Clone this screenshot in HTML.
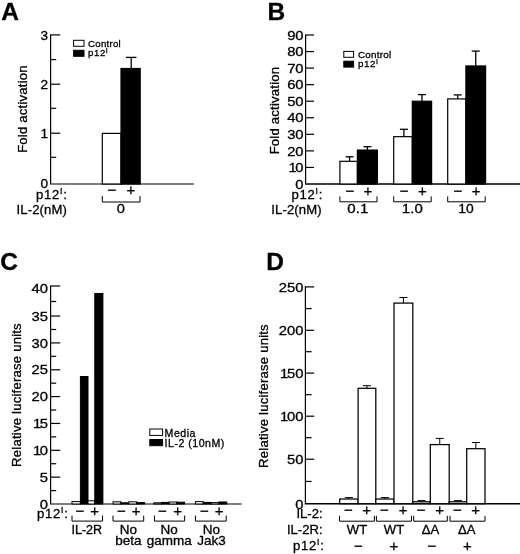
<!DOCTYPE html>
<html><head><meta charset="utf-8"><title>Figure</title>
<style>
html,body{margin:0;padding:0;background:#fff;}
svg{display:block;filter:blur(0.35px);font-family:"Liberation Sans",Arial,Helvetica,sans-serif;fill:#000;}
text{stroke:#000;stroke-width:0.3px;}
</style></head><body>
<svg width="520" height="554" viewBox="0 0 520 554">
<rect x="0" y="0" width="520" height="554" fill="#fff" stroke="none"/>
<text x="1.3" y="20" font-size="24.5" text-anchor="start" font-weight="bold" >A</text>
<line x1="50.6" y1="34.4" x2="50.6" y2="184.0" stroke="#000" stroke-width="1.2"/>
<line x1="50.0" y1="184.0" x2="194" y2="184.0" stroke="#000" stroke-width="1.2"/>
<line x1="50.6" y1="133.2" x2="60.2" y2="133.2" stroke="#000" stroke-width="1.2"/>
<line x1="50.6" y1="84.2" x2="60.2" y2="84.2" stroke="#000" stroke-width="1.2"/>
<line x1="50.6" y1="34.9" x2="60.2" y2="34.9" stroke="#000" stroke-width="1.2"/>
<line x1="50.6" y1="157.3" x2="56.2" y2="157.3" stroke="#000" stroke-width="1.2"/>
<line x1="50.6" y1="108.3" x2="56.2" y2="108.3" stroke="#000" stroke-width="1.2"/>
<line x1="50.6" y1="59.6" x2="56.2" y2="59.6" stroke="#000" stroke-width="1.2"/>
<text transform="translate(48,187.8) scale(1.04,1)" font-size="13.1" text-anchor="end" font-weight="normal" >0</text>
<text transform="translate(48,137.9) scale(1.04,1)" font-size="13.1" text-anchor="end" font-weight="normal" >1</text>
<text transform="translate(48,88.9) scale(1.04,1)" font-size="13.1" text-anchor="end" font-weight="normal" >2</text>
<text transform="translate(48,39.6) scale(1.04,1)" font-size="13.1" text-anchor="end" font-weight="normal" >3</text>
<text transform="translate(27.2,109) rotate(-90)" font-size="13.1" text-anchor="middle" letter-spacing="0.22">Fold activation</text>
<rect x="73.6" y="40.3" width="10.4" height="6.0" fill="#fff" stroke="#000" stroke-width="1"/>
<rect x="73.6" y="50.3" width="10.4" height="6.0" fill="#000" stroke="#000" stroke-width="1"/>
<text x="88" y="46.6" font-size="9.7" text-anchor="start" font-weight="normal" letter-spacing="0.25">Control</text>
<text x="88" y="56.4" font-size="9.7" text-anchor="start" font-weight="normal" letter-spacing="0.55">p12<tspan font-size="7" dy="-3">I</tspan></text>
<rect x="102.3" y="133.4" width="18.7" height="50.6" fill="#fff" stroke="#000" stroke-width="1.2"/>
<rect x="121" y="68.5" width="19.2" height="115.5" fill="#000" stroke="#000" stroke-width="1.2"/>
<line x1="131.2" y1="68.5" x2="131.2" y2="57.4" stroke="#000" stroke-width="1.3"/>
<line x1="125.89999999999999" y1="57.4" x2="136.5" y2="57.4" stroke="#000" stroke-width="1.3"/>
<text x="36.1" y="198.6" font-size="13.1" text-anchor="start" font-weight="normal" ><tspan letter-spacing="0.7">p12</tspan><tspan font-size="8.6" dy="-4.4" letter-spacing="0.9">I</tspan><tspan dy="4.4">:</tspan></text>
<text x="112" y="195.4" font-size="15" text-anchor="middle" font-weight="normal" >−</text>
<text x="130.8" y="195.4" font-size="15" text-anchor="middle" font-weight="normal" >+</text>
<polyline points="102.3,196 102.3,202 140,202 140,196" fill="none" stroke="#000" stroke-width="1.0"/>
<text transform="translate(120.8,213.1) scale(1.12,1)" font-size="13.1" text-anchor="middle" font-weight="normal" >0</text>
<text x="16.6" y="213.6" font-size="13.1" text-anchor="start" font-weight="normal" letter-spacing="0.1">IL-2(nM)</text>
<text x="267.5" y="20" font-size="24.5" text-anchor="start" font-weight="bold" >B</text>
<line x1="305.6" y1="34.4" x2="305.6" y2="184.0" stroke="#000" stroke-width="1.2"/>
<line x1="305.0" y1="184.0" x2="520" y2="184.0" stroke="#000" stroke-width="1.4"/>
<line x1="305.6" y1="167.44444444444446" x2="314.0" y2="167.44444444444446" stroke="#000" stroke-width="1.2"/>
<line x1="305.6" y1="150.88888888888889" x2="314.0" y2="150.88888888888889" stroke="#000" stroke-width="1.2"/>
<line x1="305.6" y1="134.33333333333334" x2="314.0" y2="134.33333333333334" stroke="#000" stroke-width="1.2"/>
<line x1="305.6" y1="117.77777777777779" x2="314.0" y2="117.77777777777779" stroke="#000" stroke-width="1.2"/>
<line x1="305.6" y1="101.22222222222223" x2="314.0" y2="101.22222222222223" stroke="#000" stroke-width="1.2"/>
<line x1="305.6" y1="84.66666666666667" x2="314.0" y2="84.66666666666667" stroke="#000" stroke-width="1.2"/>
<line x1="305.6" y1="68.11111111111111" x2="314.0" y2="68.11111111111111" stroke="#000" stroke-width="1.2"/>
<line x1="305.6" y1="51.55555555555557" x2="314.0" y2="51.55555555555557" stroke="#000" stroke-width="1.2"/>
<line x1="305.6" y1="35.0" x2="314.0" y2="35.0" stroke="#000" stroke-width="1.2"/>
<text transform="translate(303.6,188.9) scale(1.13,1)" font-size="13.1" text-anchor="end" font-weight="normal" >0</text>
<text transform="translate(303.6,172.14) scale(1.13,1)" font-size="13.1" text-anchor="end" font-weight="normal" ><tspan letter-spacing="-1.2">1</tspan>0</text>
<text transform="translate(303.6,155.59) scale(1.13,1)" font-size="13.1" text-anchor="end" font-weight="normal" >20</text>
<text transform="translate(303.6,139.03) scale(1.13,1)" font-size="13.1" text-anchor="end" font-weight="normal" >30</text>
<text transform="translate(303.6,122.48) scale(1.13,1)" font-size="13.1" text-anchor="end" font-weight="normal" >40</text>
<text transform="translate(303.6,105.92) scale(1.13,1)" font-size="13.1" text-anchor="end" font-weight="normal" >50</text>
<text transform="translate(303.6,89.37) scale(1.13,1)" font-size="13.1" text-anchor="end" font-weight="normal" >60</text>
<text transform="translate(303.6,72.81) scale(1.13,1)" font-size="13.1" text-anchor="end" font-weight="normal" >70</text>
<text transform="translate(303.6,56.26) scale(1.13,1)" font-size="13.1" text-anchor="end" font-weight="normal" >80</text>
<text transform="translate(303.6,39.7) scale(1.13,1)" font-size="13.1" text-anchor="end" font-weight="normal" >90</text>
<text transform="translate(278.6,110.5) rotate(-90)" font-size="13.1" text-anchor="middle" letter-spacing="0.22">Fold activation</text>
<rect x="343.8" y="51.4" width="9.8" height="5.9" fill="#fff" stroke="#000" stroke-width="1"/>
<rect x="343.8" y="61.2" width="9.8" height="5.9" fill="#000" stroke="#000" stroke-width="1"/>
<text x="358" y="57.6" font-size="9.8" text-anchor="start" font-weight="normal" letter-spacing="0.25">Control</text>
<text x="358" y="67.4" font-size="9.8" text-anchor="start" font-weight="normal" letter-spacing="0.55">p12<tspan font-size="7" dy="-3">I</tspan></text>
<rect x="339.9" y="161.3188888888889" width="17.5" height="22.68" fill="#fff" stroke="#000" stroke-width="1.2"/>
<rect x="357.4" y="150.0611111111111" width="20.0" height="33.94" fill="#000" stroke="#000" stroke-width="1.2"/>
<line x1="349.55" y1="161.3188888888889" x2="349.55" y2="156.8" stroke="#000" stroke-width="1.3"/>
<line x1="345.55" y1="156.8" x2="353.55" y2="156.8" stroke="#000" stroke-width="1.3"/>
<line x1="367.4" y1="150.0611111111111" x2="367.4" y2="146.7" stroke="#000" stroke-width="1.3"/>
<line x1="363.4" y1="146.7" x2="371.4" y2="146.7" stroke="#000" stroke-width="1.3"/>
<text x="349.84999999999997" y="195.5" font-size="15" text-anchor="middle" font-weight="normal" >−</text>
<text x="367.9" y="195.5" font-size="15" text-anchor="middle" font-weight="normal" >+</text>
<polyline points="339.9,196.4 339.9,201.8 377.0,201.8 377.0,196.4" fill="none" stroke="#000" stroke-width="1.0"/>
<rect x="393.7" y="136.6511111111111" width="18.6" height="47.35" fill="#fff" stroke="#000" stroke-width="1.2"/>
<rect x="412.3" y="101.22222222222223" width="19.3" height="82.78" fill="#000" stroke="#000" stroke-width="1.2"/>
<line x1="403.9" y1="136.6511111111111" x2="403.9" y2="129.3" stroke="#000" stroke-width="1.3"/>
<line x1="399.9" y1="129.3" x2="407.9" y2="129.3" stroke="#000" stroke-width="1.3"/>
<line x1="421.95000000000005" y1="101.22222222222223" x2="421.95000000000005" y2="94.6" stroke="#000" stroke-width="1.3"/>
<line x1="417.95000000000005" y1="94.6" x2="425.95000000000005" y2="94.6" stroke="#000" stroke-width="1.3"/>
<text x="404.2" y="195.5" font-size="15" text-anchor="middle" font-weight="normal" >−</text>
<text x="422.45000000000005" y="195.5" font-size="15" text-anchor="middle" font-weight="normal" >+</text>
<polyline points="393.7,196.4 393.7,201.8 431.20000000000005,201.8 431.20000000000005,196.4" fill="none" stroke="#000" stroke-width="1.0"/>
<rect x="447.7" y="98.90444444444445" width="18.2" height="85.1" fill="#fff" stroke="#000" stroke-width="1.2"/>
<rect x="465.9" y="65.95888888888891" width="19.7" height="118.04" fill="#000" stroke="#000" stroke-width="1.2"/>
<line x1="457.7" y1="98.90444444444445" x2="457.7" y2="94.9" stroke="#000" stroke-width="1.3"/>
<line x1="453.7" y1="94.9" x2="461.7" y2="94.9" stroke="#000" stroke-width="1.3"/>
<line x1="475.75" y1="65.95888888888891" x2="475.75" y2="51.1" stroke="#000" stroke-width="1.3"/>
<line x1="471.75" y1="51.1" x2="479.75" y2="51.1" stroke="#000" stroke-width="1.3"/>
<text x="457.99999999999994" y="195.5" font-size="15" text-anchor="middle" font-weight="normal" >−</text>
<text x="476.25" y="195.5" font-size="15" text-anchor="middle" font-weight="normal" >+</text>
<polyline points="447.7,196.4 447.7,201.8 485.20000000000005,201.8 485.20000000000005,196.4" fill="none" stroke="#000" stroke-width="1.0"/>
<text transform="translate(357.8,213.4) scale(1.15,1)" font-size="13.1" text-anchor="middle" font-weight="normal" >0.1</text>
<text transform="translate(412.3,213.4) scale(1.15,1)" font-size="13.1" text-anchor="middle" font-weight="normal" >1.0</text>
<text transform="translate(466,213.4) scale(1.06,1)" font-size="13.1" text-anchor="middle" font-weight="normal" >10</text>
<text x="291.6" y="198.6" font-size="13.1" text-anchor="start" font-weight="normal" ><tspan letter-spacing="0.7">p12</tspan><tspan font-size="8.6" dy="-4.4" letter-spacing="0.9">I</tspan><tspan dy="4.4">:</tspan></text>
<text x="271.2" y="213.6" font-size="13.1" text-anchor="start" font-weight="normal" letter-spacing="0.15">IL-2(nM)</text>
<text x="0.2" y="269.6" font-size="24.5" text-anchor="start" font-weight="bold" >C</text>
<line x1="50.6" y1="285.4" x2="50.6" y2="504" stroke="#000" stroke-width="1.2"/>
<line x1="50.0" y1="504" x2="241.5" y2="504" stroke="#000" stroke-width="1.2"/>
<line x1="50.6" y1="477.15" x2="60.2" y2="477.15" stroke="#000" stroke-width="1.2"/>
<line x1="50.6" y1="490.57" x2="56.2" y2="490.57" stroke="#000" stroke-width="1.2"/>
<line x1="50.6" y1="450.3" x2="60.2" y2="450.3" stroke="#000" stroke-width="1.2"/>
<line x1="50.6" y1="463.73" x2="56.2" y2="463.73" stroke="#000" stroke-width="1.2"/>
<line x1="50.6" y1="423.45" x2="60.2" y2="423.45" stroke="#000" stroke-width="1.2"/>
<line x1="50.6" y1="436.88" x2="56.2" y2="436.88" stroke="#000" stroke-width="1.2"/>
<line x1="50.6" y1="396.6" x2="60.2" y2="396.6" stroke="#000" stroke-width="1.2"/>
<line x1="50.6" y1="410.02" x2="56.2" y2="410.02" stroke="#000" stroke-width="1.2"/>
<line x1="50.6" y1="369.75" x2="60.2" y2="369.75" stroke="#000" stroke-width="1.2"/>
<line x1="50.6" y1="383.18" x2="56.2" y2="383.18" stroke="#000" stroke-width="1.2"/>
<line x1="50.6" y1="342.9" x2="60.2" y2="342.9" stroke="#000" stroke-width="1.2"/>
<line x1="50.6" y1="356.32" x2="56.2" y2="356.32" stroke="#000" stroke-width="1.2"/>
<line x1="50.6" y1="316.05" x2="60.2" y2="316.05" stroke="#000" stroke-width="1.2"/>
<line x1="50.6" y1="329.48" x2="56.2" y2="329.48" stroke="#000" stroke-width="1.2"/>
<line x1="50.6" y1="286.0" x2="60.2" y2="286.0" stroke="#000" stroke-width="1.2"/>
<line x1="50.6" y1="301.5" x2="56.2" y2="301.5" stroke="#000" stroke-width="1.2"/>
<text transform="translate(48,508.6) scale(1.13,1)" font-size="13.1" text-anchor="end" font-weight="normal" >0</text>
<text transform="translate(48,481.85) scale(1.13,1)" font-size="13.1" text-anchor="end" font-weight="normal" >5</text>
<text transform="translate(48,455.0) scale(1.13,1)" font-size="13.1" text-anchor="end" font-weight="normal" ><tspan letter-spacing="-1.2">1</tspan>0</text>
<text transform="translate(48,428.15) scale(1.13,1)" font-size="13.1" text-anchor="end" font-weight="normal" ><tspan letter-spacing="-1.2">1</tspan>5</text>
<text transform="translate(48,401.3) scale(1.13,1)" font-size="13.1" text-anchor="end" font-weight="normal" >20</text>
<text transform="translate(48,374.45) scale(1.13,1)" font-size="13.1" text-anchor="end" font-weight="normal" >25</text>
<text transform="translate(48,347.6) scale(1.13,1)" font-size="13.1" text-anchor="end" font-weight="normal" >30</text>
<text transform="translate(48,320.75) scale(1.13,1)" font-size="13.1" text-anchor="end" font-weight="normal" >35</text>
<text transform="translate(48,292.7) scale(1.13,1)" font-size="13.1" text-anchor="end" font-weight="normal" >40</text>
<text transform="translate(21.3,395) rotate(-90)" font-size="13.1" text-anchor="middle" letter-spacing="0.22">Relative luciferase units</text>
<rect x="72" y="501.6" width="8.4" height="2.4" fill="#fff" stroke="#000" stroke-width="1"/>
<rect x="80.4" y="376.5" width="7.6" height="127.5" fill="#000" stroke="#000" stroke-width="1"/>
<rect x="88" y="500.8" width="6.8" height="3.2" fill="#fff" stroke="#000" stroke-width="1"/>
<rect x="94.8" y="293.5" width="8.1" height="210.5" fill="#000" stroke="#000" stroke-width="1"/>
<rect x="113.0" y="501.8" width="7.9" height="2.2" fill="#fff" stroke="#000" stroke-width="1"/>
<rect x="120.9" y="502.8" width="7.9" height="1.2" fill="#000" stroke="#000" stroke-width="1"/>
<rect x="128.8" y="501.8" width="7.9" height="2.2" fill="#fff" stroke="#000" stroke-width="1"/>
<rect x="136.7" y="502.6" width="7.9" height="1.4" fill="#000" stroke="#000" stroke-width="1"/>
<rect x="153.8" y="502.8" width="7.7" height="1.2" fill="#fff" stroke="#000" stroke-width="1"/>
<rect x="161.5" y="502.4" width="7.7" height="1.6" fill="#000" stroke="#000" stroke-width="1"/>
<rect x="169.2" y="502.0" width="7.7" height="2.0" fill="#fff" stroke="#000" stroke-width="1"/>
<rect x="176.9" y="502.2" width="7.7" height="1.8" fill="#000" stroke="#000" stroke-width="1"/>
<rect x="195.4" y="501.6" width="7.85" height="2.4" fill="#fff" stroke="#000" stroke-width="1"/>
<rect x="203.25" y="502.4" width="7.85" height="1.6" fill="#000" stroke="#000" stroke-width="1"/>
<rect x="211.1" y="502.6" width="7.85" height="1.4" fill="#fff" stroke="#000" stroke-width="1"/>
<rect x="218.95" y="502.0" width="7.85" height="2.0" fill="#000" stroke="#000" stroke-width="1"/>
<polyline points="72,515.6 72,521.1 102.5,521.1 102.5,515.6" fill="none" stroke="#000" stroke-width="1.0"/>
<text x="80" y="515.5" font-size="15" text-anchor="middle" font-weight="normal" >−</text>
<text x="94.6" y="515.5" font-size="15" text-anchor="middle" font-weight="normal" >+</text>
<polyline points="113,515.6 113,521.1 143.7,521.1 143.7,515.6" fill="none" stroke="#000" stroke-width="1.0"/>
<text x="121.5" y="515.5" font-size="15" text-anchor="middle" font-weight="normal" >−</text>
<text x="136.2" y="515.5" font-size="15" text-anchor="middle" font-weight="normal" >+</text>
<polyline points="154.5,515.6 154.5,521.1 184.6,521.1 184.6,515.6" fill="none" stroke="#000" stroke-width="1.0"/>
<text x="162.5" y="515.5" font-size="15" text-anchor="middle" font-weight="normal" >−</text>
<text x="177.6" y="515.5" font-size="15" text-anchor="middle" font-weight="normal" >+</text>
<polyline points="195.4,515.6 195.4,521.1 226.2,521.1 226.2,515.6" fill="none" stroke="#000" stroke-width="1.0"/>
<text x="204.4" y="515.5" font-size="15" text-anchor="middle" font-weight="normal" >−</text>
<text x="219.2" y="515.5" font-size="15" text-anchor="middle" font-weight="normal" >+</text>
<text x="86.8" y="533.6" font-size="12.5" text-anchor="middle" font-weight="normal" >IL-2R</text>
<text transform="translate(128.3,533.7) scale(1.08,1)" font-size="12.5" text-anchor="middle" font-weight="normal" >No</text>
<text transform="translate(128.3,544.9) scale(1.08,1)" font-size="12.5" text-anchor="middle" font-weight="normal" >beta</text>
<text transform="translate(169.2,533.7) scale(1.08,1)" font-size="12.5" text-anchor="middle" font-weight="normal" >No</text>
<text transform="translate(169.2,544.9) scale(1.08,1)" font-size="12.5" text-anchor="middle" font-weight="normal" >gamma</text>
<text transform="translate(211.4,533.7) scale(1.08,1)" font-size="12.5" text-anchor="middle" font-weight="normal" >No</text>
<text transform="translate(211.4,544.9) scale(1.08,1)" font-size="12.5" text-anchor="middle" font-weight="normal" >Jak3</text>
<text x="37" y="517.6" font-size="13.1" text-anchor="start" font-weight="normal" ><tspan letter-spacing="0.7">p12</tspan><tspan font-size="8.6" dy="-4.4" letter-spacing="0.9">I</tspan><tspan dy="4.4">:</tspan></text>
<rect x="149.8" y="429" width="12.8" height="6.4" fill="#fff" stroke="#000" stroke-width="1"/>
<rect x="149.8" y="439.5" width="12.8" height="6.2" fill="#000" stroke="#000" stroke-width="1"/>
<text x="164.6" y="436.5" font-size="10.6" text-anchor="start" font-weight="normal" letter-spacing="0.5">Media</text>
<text x="164.6" y="446.7" font-size="10.6" text-anchor="start" font-weight="normal" letter-spacing="0.5">IL-2 (10nM)</text>
<text x="266.3" y="269.7" font-size="24.5" text-anchor="start" font-weight="bold" >D</text>
<line x1="305.4" y1="286.29999999999995" x2="305.4" y2="503.7" stroke="#000" stroke-width="1.2"/>
<line x1="304.79999999999995" y1="503.7" x2="520" y2="503.7" stroke="#000" stroke-width="1.4"/>
<line x1="305.4" y1="459.2" x2="314.2" y2="459.2" stroke="#000" stroke-width="1.2"/>
<line x1="305.4" y1="481.45" x2="311.59999999999997" y2="481.45" stroke="#000" stroke-width="1.2"/>
<line x1="305.4" y1="416.2" x2="314.2" y2="416.2" stroke="#000" stroke-width="1.2"/>
<line x1="305.4" y1="437.7" x2="311.59999999999997" y2="437.7" stroke="#000" stroke-width="1.2"/>
<line x1="305.4" y1="373.1" x2="314.2" y2="373.1" stroke="#000" stroke-width="1.2"/>
<line x1="305.4" y1="394.65" x2="311.59999999999997" y2="394.65" stroke="#000" stroke-width="1.2"/>
<line x1="305.4" y1="330.3" x2="314.2" y2="330.3" stroke="#000" stroke-width="1.2"/>
<line x1="305.4" y1="351.7" x2="311.59999999999997" y2="351.7" stroke="#000" stroke-width="1.2"/>
<line x1="305.4" y1="286.9" x2="314.2" y2="286.9" stroke="#000" stroke-width="1.2"/>
<line x1="305.4" y1="308.6" x2="311.59999999999997" y2="308.6" stroke="#000" stroke-width="1.2"/>
<text transform="translate(303.4,508.6) scale(1.13,1)" font-size="13.1" text-anchor="end" font-weight="normal" >0</text>
<text transform="translate(303.4,463.9) scale(1.13,1)" font-size="13.1" text-anchor="end" font-weight="normal" >50</text>
<text transform="translate(303.4,420.9) scale(1.13,1)" font-size="13.1" text-anchor="end" font-weight="normal" ><tspan letter-spacing="-1.2">1</tspan>00</text>
<text transform="translate(303.4,377.8) scale(1.13,1)" font-size="13.1" text-anchor="end" font-weight="normal" ><tspan letter-spacing="-1.2">1</tspan>50</text>
<text transform="translate(303.4,335.0) scale(1.13,1)" font-size="13.1" text-anchor="end" font-weight="normal" >200</text>
<text transform="translate(303.4,291.6) scale(1.13,1)" font-size="13.1" text-anchor="end" font-weight="normal" >250</text>
<text transform="translate(267.9,396) rotate(-90)" font-size="13.1" text-anchor="middle" letter-spacing="0.22">Relative luciferase units</text>
<rect x="339.7" y="499" width="18.4" height="4.7" fill="#fff" stroke="#000" stroke-width="1.25"/>
<line x1="348.9" y1="499" x2="348.9" y2="497.6" stroke="#000" stroke-width="1.0"/>
<line x1="344.9" y1="497.6" x2="352.9" y2="497.6" stroke="#000" stroke-width="1.0"/>
<text x="348.4" y="515.3" font-size="15" text-anchor="middle" font-weight="normal" >−</text>
<rect x="358.1" y="388.3" width="17.7" height="115.4" fill="#fff" stroke="#000" stroke-width="1.25"/>
<line x1="366.95000000000005" y1="388.3" x2="366.95000000000005" y2="385.7" stroke="#000" stroke-width="1.0"/>
<line x1="362.95000000000005" y1="385.7" x2="370.95000000000005" y2="385.7" stroke="#000" stroke-width="1.0"/>
<text x="366.75000000000006" y="515.3" font-size="15" text-anchor="middle" font-weight="normal" >+</text>
<rect x="375.8" y="499" width="18.2" height="4.7" fill="#fff" stroke="#000" stroke-width="1.25"/>
<line x1="384.9" y1="499" x2="384.9" y2="497.6" stroke="#000" stroke-width="1.0"/>
<line x1="380.9" y1="497.6" x2="388.9" y2="497.6" stroke="#000" stroke-width="1.0"/>
<text x="384.4" y="515.3" font-size="15" text-anchor="middle" font-weight="normal" >−</text>
<rect x="394" y="303.1" width="18.8" height="200.6" fill="#fff" stroke="#000" stroke-width="1.25"/>
<line x1="403.4" y1="303.1" x2="403.4" y2="297.5" stroke="#000" stroke-width="1.0"/>
<line x1="399.4" y1="297.5" x2="407.4" y2="297.5" stroke="#000" stroke-width="1.0"/>
<text x="403.2" y="515.3" font-size="15" text-anchor="middle" font-weight="normal" >+</text>
<rect x="412.8" y="501.8" width="17.5" height="1.9" fill="#fff" stroke="#000" stroke-width="1.25"/>
<line x1="421.55" y1="501.8" x2="421.55" y2="500.6" stroke="#000" stroke-width="1.0"/>
<line x1="417.55" y1="500.6" x2="425.55" y2="500.6" stroke="#000" stroke-width="1.0"/>
<text x="421.05" y="515.3" font-size="15" text-anchor="middle" font-weight="normal" >−</text>
<rect x="430.3" y="444.6" width="18.9" height="59.1" fill="#fff" stroke="#000" stroke-width="1.25"/>
<line x1="439.75" y1="444.6" x2="439.75" y2="438.4" stroke="#000" stroke-width="1.0"/>
<line x1="435.75" y1="438.4" x2="443.75" y2="438.4" stroke="#000" stroke-width="1.0"/>
<text x="439.55" y="515.3" font-size="15" text-anchor="middle" font-weight="normal" >+</text>
<rect x="449.2" y="501.8" width="17.5" height="1.9" fill="#fff" stroke="#000" stroke-width="1.25"/>
<line x1="457.95" y1="501.8" x2="457.95" y2="500.6" stroke="#000" stroke-width="1.0"/>
<line x1="453.95" y1="500.6" x2="461.95" y2="500.6" stroke="#000" stroke-width="1.0"/>
<text x="457.45" y="515.3" font-size="15" text-anchor="middle" font-weight="normal" >−</text>
<rect x="466.7" y="448.7" width="18.3" height="55.0" fill="#fff" stroke="#000" stroke-width="1.25"/>
<line x1="475.85" y1="448.7" x2="475.85" y2="442.5" stroke="#000" stroke-width="1.0"/>
<line x1="471.85" y1="442.5" x2="479.85" y2="442.5" stroke="#000" stroke-width="1.0"/>
<text x="475.65000000000003" y="515.3" font-size="15" text-anchor="middle" font-weight="normal" >+</text>
<polyline points="339.5,515.8 339.5,521.2 374.4,521.2 374.4,515.8" fill="none" stroke="#000" stroke-width="1.0"/>
<polyline points="376.4,515.8 376.4,521.2 411.5,521.2 411.5,515.8" fill="none" stroke="#000" stroke-width="1.0"/>
<polyline points="413.7,515.8 413.7,521.2 447.3,521.2 447.3,515.8" fill="none" stroke="#000" stroke-width="1.0"/>
<polyline points="450,515.8 450,521.2 485,521.2 485,515.8" fill="none" stroke="#000" stroke-width="1.0"/>
<text x="357" y="533.5" font-size="13.1" text-anchor="middle" font-weight="normal" >WT</text>
<text x="394" y="533.5" font-size="13.1" text-anchor="middle" font-weight="normal" >WT</text>
<text x="430.4" y="533.5" font-size="13.1" text-anchor="middle" font-weight="normal" >ΔA</text>
<text x="466.7" y="533.5" font-size="13.1" text-anchor="middle" font-weight="normal" >ΔA</text>
<text x="358.3" y="550.5" font-size="15" text-anchor="middle" font-weight="normal" >−</text>
<text x="394" y="550.5" font-size="15" text-anchor="middle" font-weight="normal" >+</text>
<text x="432" y="550.5" font-size="15" text-anchor="middle" font-weight="normal" >−</text>
<text x="467.5" y="550.5" font-size="15" text-anchor="middle" font-weight="normal" >+</text>
<text x="322.6" y="517.5" font-size="13.1" text-anchor="end" font-weight="normal" >IL-2:</text>
<text x="322.6" y="533.5" font-size="13.1" text-anchor="end" font-weight="normal" >IL-2R:</text>
<text x="293.1" y="549.7" font-size="13.1" text-anchor="start" font-weight="normal" ><tspan letter-spacing="0.7">p12</tspan><tspan font-size="8.6" dy="-4.4" letter-spacing="0.9">I</tspan><tspan dy="4.4">:</tspan></text>
</svg>
</body></html>
